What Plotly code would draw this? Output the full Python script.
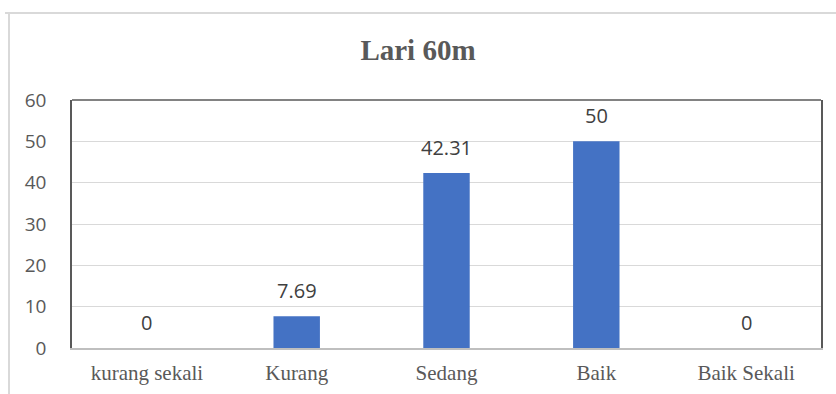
import plotly.graph_objects as go

categories = ["kurang sekali", "Kurang", "Sedang", "Baik", "Baik Sekali"]
values = [0, 7.69, 42.31, 50, 0]
labels = ["0", "7.69", "42.31", "50", "0"]
y_ticks = [0, 10, 20, 30, 40, 50, 60]

L, R, T, B = 72, 15, 100, 46
W, H = 836, 394
pw, ph = W - L - R, H - T - B

def px_to_paper_x(px):
    return (px - L) / pw

def px_to_paper_y(py):
    return (H - B - py) / ph

fig = go.Figure(go.Bar(
    x=categories, y=values,
    marker=dict(color="#4472C4", line=dict(width=0)),
    width=0.31,
))

for c, v, t in zip(categories, values, labels):
    fig.add_annotation(x=c, y=v, text=t, showarrow=False, yanchor="middle", yshift=26,
                       font=dict(family="Open Sans, Lato, sans-serif", size=20, color="#404040"))

fig.update_layout(
    width=W, height=H,
    margin=dict(l=L, r=R, t=T, b=B, autoexpand=False),
    paper_bgcolor="white", plot_bgcolor="white",
    showlegend=False,
    title=dict(text="<b>Lari 60m</b>", x=0.5, xanchor="center", y=1 - 50 / H, yanchor="middle",
               font=dict(family="Liberation Serif, Times New Roman, serif", size=29, color="#595959")),
    xaxis=dict(showgrid=False, showline=True, linecolor="#bfbfbf", linewidth=1.5, automargin=False,
               ticks="", tickfont=dict(family="Liberation Serif, serif", size=21, color="#595959"),
               ticklabelstandoff=5),
    yaxis=dict(range=[0, 60], tickvals=y_ticks, showgrid=True, gridcolor="#d9d9d9", gridwidth=1,
               showline=True, linecolor="#595959", linewidth=1.5, mirror=True, zeroline=False,
               ticks="", ticklabelstandoff=20, automargin=False,
               tickfont=dict(family="Open Sans, Lato, sans-serif", size=19, color="#595959")),
    shapes=[
        dict(type="line", xref="paper", yref="paper", x0=0, x1=1, y0=1, y1=1,
             line=dict(color="#595959", width=1.5)),
        dict(type="line", xref="paper", yref="paper", x0=px_to_paper_x(9), x1=px_to_paper_x(9),
             y0=px_to_paper_y(13), y1=px_to_paper_y(400), line=dict(color="#d9d9d9", width=2)),
        dict(type="line", xref="paper", yref="paper", x0=px_to_paper_x(5), x1=px_to_paper_x(840),
             y0=px_to_paper_y(13), y1=px_to_paper_y(13), line=dict(color="#d9d9d9", width=2)),
    ],
)

fig.write_html("out.html")
